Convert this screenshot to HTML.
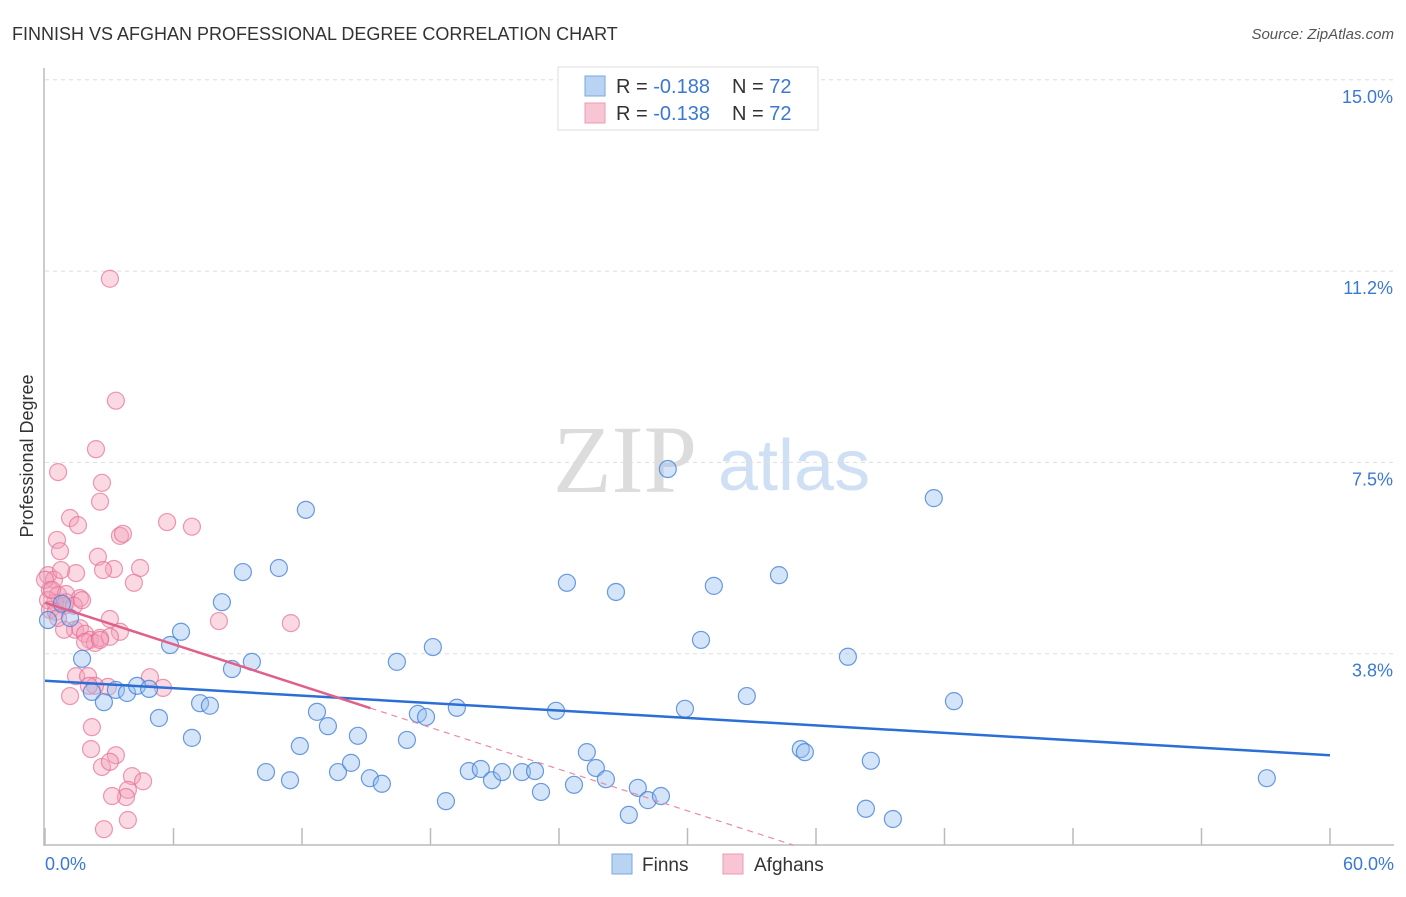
<!DOCTYPE html>
<html><head><meta charset="utf-8"><style>
body{margin:0;background:#fff;font-family:"Liberation Sans",sans-serif}
svg text{font-family:"Liberation Sans",sans-serif}
</style></head><body>
<svg id="chart" width="1406" height="892" xmlns="http://www.w3.org/2000/svg">
<text x="12" y="40" font-size="18" fill="#333">FINNISH VS AFGHAN PROFESSIONAL DEGREE CORRELATION CHART</text>
<text x="1394" y="39" font-size="15" fill="#555" font-style="italic" text-anchor="end">Source: ZipAtlas.com</text>
<g>
<text x="553" y="492" font-size="96" fill="#dcdcdc" font-family="Liberation Serif" style="font-family:'Liberation Serif',serif">ZIP</text>
<text x="718" y="490" font-size="72" fill="#cfe0f5">atlas</text>
</g>
<g id="grid"></g>
<g id="axes"></g>
<g id="pts"></g>
<g id="trends"></g>
<text transform="translate(33,456) rotate(-90)" font-size="18" fill="#333" text-anchor="middle">Professional Degree</text>
<g>
<rect x="558" y="67" width="260" height="63" fill="#fff" stroke="#ddd"/>
<rect x="585" y="76" width="20" height="20" fill="#b9d3f3" stroke="#7aa7e0"/>
<text x="616" y="93" font-size="20" fill="#333">R = <tspan fill="#3a78d4">-0.188</tspan></text>
<text x="732" y="93" font-size="20" fill="#333">N = <tspan fill="#3a78d4">72</tspan></text>
<rect x="585" y="103" width="20" height="20" fill="#f8c5d4" stroke="#ec9ab3"/>
<text x="616" y="120" font-size="20" fill="#333">R = <tspan fill="#3a78d4">-0.138</tspan></text>
<text x="732" y="120" font-size="20" fill="#333">N = <tspan fill="#3a78d4">72</tspan></text>
</g>
<g>
<rect x="612" y="854" width="20" height="20" fill="#b9d3f3" stroke="#7aa7e0"/>
<text x="642" y="871" font-size="19" fill="#333">Finns</text>
<rect x="723" y="854" width="20" height="20" fill="#f8c5d4" stroke="#ec9ab3"/>
<text x="754" y="871" font-size="19" fill="#333">Afghans</text>
</g>
</svg>
<script>
const yTicks=[3.75,7.5,11.25,15];
const yTickLabels=["3.8%","7.5%","11.2%","15.0%"];
const xTicks=[0,6,12,18,24,30,36,42,48,54,60];
const finnsX=[12.18,29.08,41.50,10.92,9.24,24.37,26.66,31.23,34.27,8.26,6.35,5.84,18.11,30.63,16.43,9.66,8.73,37.49,1.73,2.19,2.75,3.31,3.83,4.30,4.86,5.32,7.24,7.70,6.86,12.70,13.21,14.61,11.90,16.90,17.41,17.79,19.23,23.86,29.88,32.77,42.44,10.32,11.44,13.68,14.29,15.17,15.73,18.72,19.79,20.35,20.87,21.34,22.27,22.88,23.16,24.70,25.30,25.72,26.19,27.26,27.68,28.15,28.76,35.29,35.48,38.56,38.33,39.59,57.05,0.79,1.17,0.14];
const finnsY=[6.57,7.37,6.80,5.43,5.35,5.14,4.96,5.08,5.29,4.76,4.18,3.92,3.88,4.02,3.59,3.59,3.45,3.69,3.65,3.00,2.80,3.04,2.98,3.12,3.06,2.49,2.78,2.73,2.10,2.61,2.33,2.14,1.94,2.06,2.57,2.51,2.69,2.63,2.67,2.92,2.82,1.43,1.27,1.43,1.61,1.31,1.20,0.86,1.45,1.49,1.27,1.43,1.43,1.45,1.04,1.18,1.82,1.51,1.29,0.59,1.12,0.88,0.96,1.88,1.82,1.65,0.71,0.51,1.31,4.73,4.45,4.41];
const afghansX=[3.03,3.31,2.38,0.61,2.66,2.57,1.17,1.54,5.70,6.86,0.56,0.70,3.50,3.64,2.47,3.22,1.45,2.71,4.44,0.14,0.42,4.15,0.75,0.23,0.61,0.98,1.63,0.89,0.47,0.14,3.03,8.12,11.48,1.40,1.63,1.87,2.10,2.33,2.57,0.89,3.50,3.03,1.87,1.45,2.01,2.94,4.90,5.51,2.33,1.17,2.19,2.15,3.31,2.66,3.03,4.06,4.58,3.87,3.78,3.13,2.75,3.87,0.23,0.51,2.05,2.57,0.00,0.33,0.98,1.35,1.73,0.61];
const afghansY=[11.10,8.71,7.76,7.31,7.10,6.73,6.41,6.27,6.33,6.24,5.98,5.76,6.06,6.10,5.65,5.41,5.33,5.39,5.43,5.29,5.20,5.14,5.39,5.00,4.90,4.92,4.84,4.69,4.75,4.80,4.43,4.39,4.35,4.22,4.25,4.14,4.02,3.96,4.06,4.22,4.18,4.08,3.98,3.31,3.31,3.10,3.29,3.08,3.12,2.92,2.31,1.88,1.76,1.53,1.63,1.35,1.25,1.08,0.94,0.96,0.31,0.49,4.61,4.57,3.12,4.02,5.20,5.00,4.76,4.69,4.80,4.45];
const finnsTrend=[3.22,1.76];      // y at x=0 and x=60
const afghansTrend=[4.75,-0.136];  // intercept, slope
const afghansSolidEnd=15.2;
const NS='http://www.w3.org/2000/svg';
const X=v=>45+v*(1285/60), Y=v=>845-v*(191.3/3.75);
function mk(tag,attrs,parent){const e=document.createElementNS(NS,tag);for(const k in attrs)e.setAttribute(k,attrs[k]);parent.appendChild(e);return e;}
const grid=document.getElementById('grid'),axes=document.getElementById('axes'),pts=document.getElementById('pts'),tr=document.getElementById('trends');
yTicks.forEach((t,i)=>{
 const l=mk('line',{x1:45,x2:1394,y1:Y(t),y2:Y(t),stroke:'#ddd','stroke-dasharray':'4,4'},grid);
 
 
 const tx=mk('text',{x:1393,y:Y(t)+23,'font-size':18,fill:'#3a78d4','text-anchor':'end'},grid);
 tx.textContent=yTickLabels[i];
 
 
});
const ya=mk('line',{x1:44,x2:44,y1:68,y2:846,stroke:'#bbb','stroke-width':1.5},axes);


const xa=mk('line',{x1:44,x2:1394,y1:845,y2:845,stroke:'#bbb','stroke-width':1.5},axes);


xTicks.forEach(t=>{
 const l=mk('line',{x1:X(t),x2:X(t),y1:828,y2:845,stroke:'#bbb','stroke-width':1.5},axes);
 
 
});
const xl0=mk('text',{x:45,y:870,'font-size':18,fill:'#3a78d4'},axes);xl0.textContent='0.0%';


const xl1=mk('text',{x:1394,y:870,'font-size':18,fill:'#3a78d4','text-anchor':'end'},axes);xl1.textContent='60.0%';


afghansX.forEach((v,i)=>{
 const c=mk('circle',{cx:X(v),cy:Y(afghansY[i]),r:8.5,fill:'rgba(243,160,186,0.4)',stroke:'rgba(230,110,150,0.7)','stroke-width':1.2},pts);
 
 
});
finnsX.forEach((v,i)=>{
 const c=mk('circle',{cx:X(v),cy:Y(finnsY[i]),r:8.5,fill:'rgba(150,190,240,0.4)',stroke:'rgba(70,130,215,0.8)','stroke-width':1.2},pts);
 
 
});
const fl=mk('line',{x1:X(0),y1:Y(finnsTrend[0]),x2:X(60),y2:Y(finnsTrend[1]),stroke:'#2b6fd6','stroke-width':2.5},tr);


const ay=x=>afghansTrend[0]+afghansTrend[1]*x;
const al=mk('line',{x1:X(0),y1:Y(ay(0)),x2:X(afghansSolidEnd),y2:Y(ay(afghansSolidEnd)),stroke:'#e0608a','stroke-width':2.5},tr);


const xe=-afghansTrend[0]/afghansTrend[1];
const ad=mk('line',{x1:X(afghansSolidEnd),y1:Y(ay(afghansSolidEnd)),x2:X(xe),y2:Y(0),stroke:'#e88aa8','stroke-width':1.2,'stroke-dasharray':'6,5'},tr);


</script>
</body></html>
